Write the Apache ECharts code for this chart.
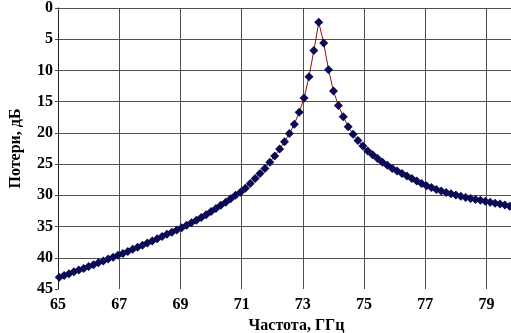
<!DOCTYPE html>
<html>
<head>
<meta charset="utf-8">
<script src="https://cdn.jsdelivr.net/npm/echarts@6/dist/echarts.min.js"></script>
<style>
  html, body { margin: 0; padding: 0; background: #fff; }
  #main { width: 511px; height: 333px; }
</style>
</head>
<body>
<div id="main"></div>
<script>
// frequency, GHz
var freq = [
  65.04, 65.20, 65.36, 65.52, 65.68, 65.84, 66.00, 66.16, 66.32, 66.48,
  66.64, 66.80, 66.96, 67.12, 67.28, 67.44, 67.60, 67.76, 67.92, 68.08,
  68.24, 68.40, 68.56, 68.72, 68.88, 69.04, 69.20, 69.36, 69.52, 69.68,
  69.84, 70.00, 70.16, 70.32, 70.48, 70.64, 70.80, 70.96, 71.12, 71.28,
  71.44, 71.60, 71.76, 71.92, 72.08, 72.24, 72.40, 72.56, 72.72, 72.88,
  73.04, 73.20, 73.36, 73.52, 73.68, 73.84, 74.00, 74.16, 74.32, 74.48,
  74.64, 74.80, 74.96, 75.12, 75.28, 75.44, 75.60, 75.76, 75.92, 76.08,
  76.24, 76.40, 76.56, 76.72, 76.88, 77.04, 77.20, 77.36, 77.52, 77.68,
  77.84, 78.00, 78.16, 78.32, 78.48, 78.64, 78.80, 78.96, 79.12, 79.28,
  79.44, 79.60, 79.76
];
// losses, dB
var loss = [
  43.1, 42.85, 42.55, 42.25, 41.95, 41.7, 41.4, 41.1, 40.8, 40.5,
  40.2, 39.9, 39.6, 39.3, 39.0, 38.65, 38.3, 38.0, 37.65, 37.3,
  36.95, 36.6, 36.25, 35.9, 35.55, 35.2, 34.8, 34.4, 34.0, 33.55,
  33.1, 32.6, 32.1, 31.6, 31.1, 30.55, 30.0, 29.5, 28.85, 28.1,
  27.3, 26.5, 25.7, 24.7, 23.7, 22.6, 21.4, 20.1, 18.6, 16.7,
  14.4, 11.0, 6.8, 2.3, 5.6, 9.9, 13.3, 15.6, 17.4, 19.0,
  20.2, 21.2, 22.1, 22.9, 23.5, 24.1, 24.7, 25.2, 25.7, 26.1,
  26.5, 26.9, 27.3, 27.7, 28.1, 28.45, 28.75, 29.05, 29.3, 29.55,
  29.75, 29.95, 30.15, 30.35, 30.5, 30.65, 30.8, 30.95, 31.1, 31.25,
  31.4, 31.55, 31.75
];
var xTicks = [65, 67, 69, 71, 73, 75, 77, 79];

var chart = echarts.init(document.getElementById('main'));

var labelFont = {
  fontFamily: '"Liberation Serif", "DejaVu Serif", serif',
  fontWeight: 'bold',
  fontSize: 16,
  color: '#000'
};

chart.setOption({
  animation: false,
  grid: { left: 58, top: 8, right: 0, bottom: 44, outerBoundsMode: 'none' },
  xAxis: {
    type: 'value',
    min: 65,
    max: 79.8,
    name: 'Частота, ГГц',
    nameLocation: 'middle',
    nameGap: 28,
    nameTextStyle: Object.assign({}, labelFont, { padding: [0, 0, 0, 24] }),
    axisLine: { show: false },
    axisTick: { show: true, length: 3, customValues: xTicks, lineStyle: { color: '#444' } },
    axisLabel: Object.assign({}, labelFont, { customValues: xTicks, margin: 8 }),
    splitLine: { show: true, lineStyle: { color: '#505050', width: 1 } }
  },
  yAxis: {
    type: 'value',
    inverse: true,
    min: 0,
    max: 45,
    interval: 5,
    name: 'Потери, дБ',
    nameLocation: 'middle',
    nameGap: 34,
    nameTextStyle: labelFont,
    axisLine: { show: true, lineStyle: { color: '#222', width: 1 } },
    axisTick: { show: true, length: 3, lineStyle: { color: '#444' } },
    axisLabel: Object.assign({}, labelFont, { margin: 5 }),
    splitLine: { show: true, showMaxLine: false, lineStyle: { color: '#505050', width: 1 } }
  },
  series: [{
    type: 'line',
    data: freq.map(function (f, i) { return [f, loss[i]]; }),
    symbol: 'diamond',
    symbolSize: 9,
    showAllSymbol: true,
    itemStyle: { color: '#0b0b55' },
    lineStyle: { color: '#8b1010', width: 1 },
    clip: true
  }]
});
</script>
</body>
</html>
